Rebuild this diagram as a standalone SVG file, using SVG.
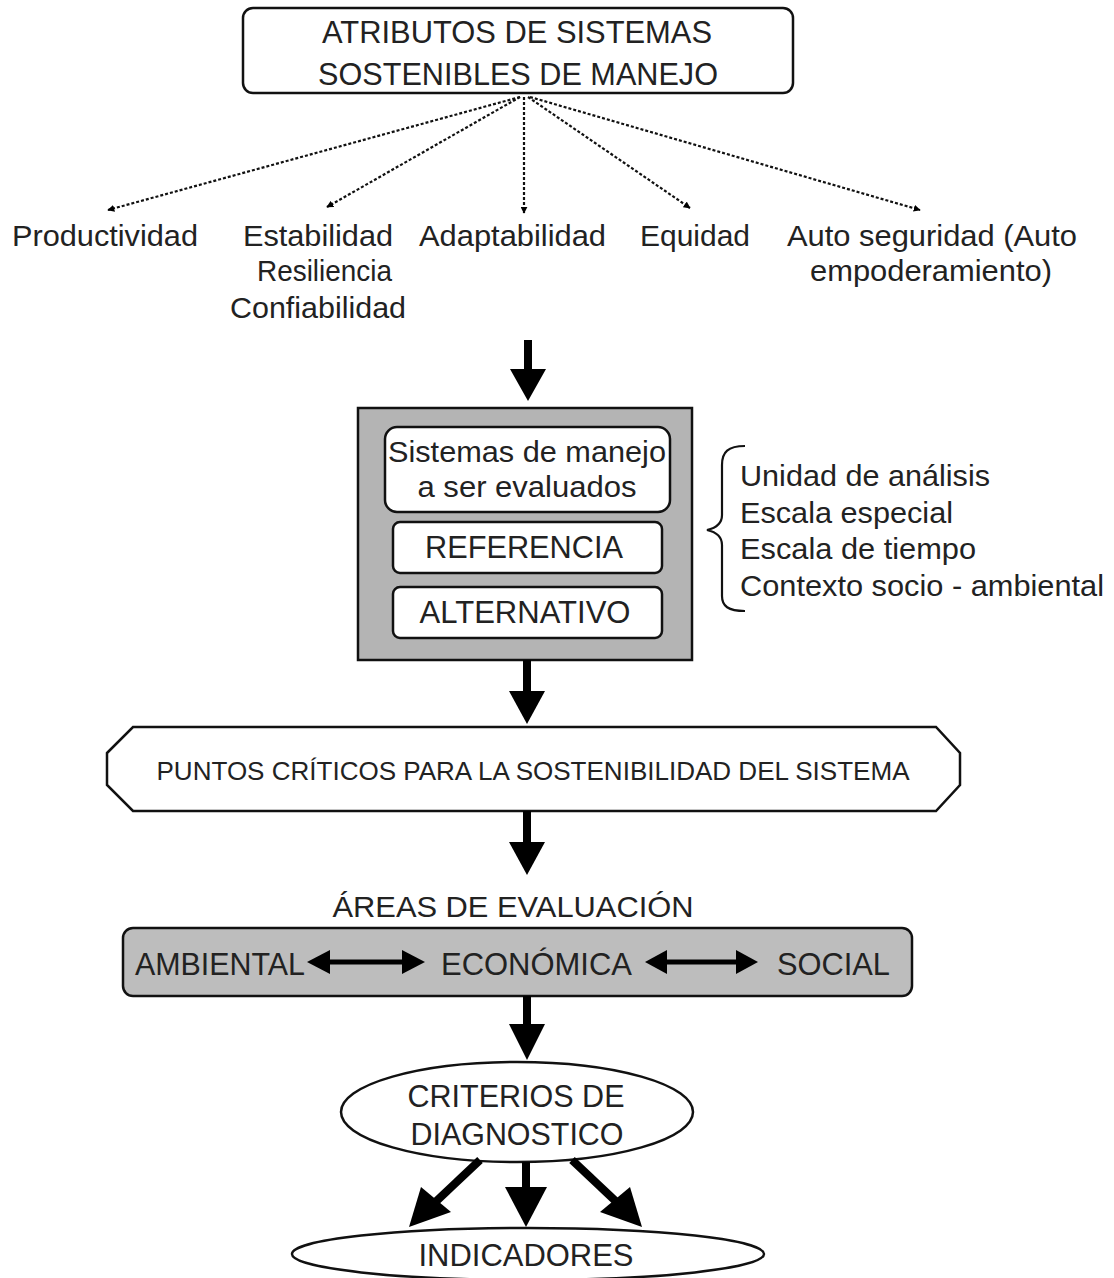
<svg xmlns="http://www.w3.org/2000/svg" width="1114" height="1278" viewBox="0 0 1114 1278">
<defs>
<style>
text{font-family:"Liberation Sans",Arial,sans-serif;font-size:30px;fill:#222;}
.c{text-anchor:middle;}
.u{font-size:32px;}
.box{fill:#fff;stroke:#111;stroke-width:2.5;}
.gray{fill:#b4b4b4;stroke:#111;stroke-width:2.5;}
.dot{stroke:#111;stroke-width:2.2;stroke-dasharray:3 2;fill:none;}
.shaft{stroke:#000;stroke-width:8;fill:none;}
.head{fill:#000;}
</style>
<marker id="sm" viewBox="0 0 10 10" refX="9" refY="5" markerWidth="7" markerHeight="7" markerUnits="userSpaceOnUse" orient="auto">
<path d="M0,0 L10,5 L0,10 z" fill="#000"/>
</marker>
</defs>
<rect width="1114" height="1278" fill="#fff"/>

<g id="atributos">
<rect class="box" x="243" y="8" width="550" height="85" rx="10"/>
<text class="c u" x="517" y="43" textLength="390" lengthAdjust="spacingAndGlyphs">ATRIBUTOS DE SISTEMAS</text>
<text class="c u" x="518" y="85" textLength="400" lengthAdjust="spacingAndGlyphs">SOSTENIBLES DE MANEJO</text>
</g>

<g id="productividad"><text x="12" y="246" textLength="186" lengthAdjust="spacingAndGlyphs">Productividad</text></g>
<g id="estabilidad">
<text x="243" y="246" textLength="150" lengthAdjust="spacingAndGlyphs">Estabilidad</text>
<text x="257" y="281" textLength="135" lengthAdjust="spacingAndGlyphs">Resiliencia</text>
<text x="230" y="318" textLength="176" lengthAdjust="spacingAndGlyphs">Confiabilidad</text>
</g>
<g id="adaptabilidad"><text x="419" y="246" textLength="187" lengthAdjust="spacingAndGlyphs">Adaptabilidad</text></g>
<g id="equidad"><text x="640" y="246" textLength="110" lengthAdjust="spacingAndGlyphs">Equidad</text></g>
<g id="autoseguridad">
<text x="787" y="246" textLength="290" lengthAdjust="spacingAndGlyphs">Auto seguridad (Auto</text>
<text x="810" y="281" textLength="242" lengthAdjust="spacingAndGlyphs">empoderamiento)</text>
</g>

<g id="sistemas">
<rect class="gray" x="358" y="408" width="334" height="252"/>
<rect class="box" x="385" y="427" width="285" height="85" rx="12"/>
<text class="c" x="527" y="462" textLength="278" lengthAdjust="spacingAndGlyphs">Sistemas de manejo</text>
<text class="c" x="527" y="497" textLength="219" lengthAdjust="spacingAndGlyphs">a ser evaluados</text>
<rect class="box" x="393" y="522" width="269" height="51" rx="7"/>
<text class="c u" x="524" y="558" textLength="198" lengthAdjust="spacingAndGlyphs">REFERENCIA</text>
<rect class="box" x="393" y="587" width="269" height="51" rx="7"/>
<text class="c u" x="525" y="623" textLength="211" lengthAdjust="spacingAndGlyphs">ALTERNATIVO</text>
</g>

<g id="contexto">
<path d="M745,446 C728,446 722,452 722,465 L722,515 C722,524 716,528 707,530 C716,532 722,536 722,545 L722,596 C722,606 728,611 745,611" fill="none" stroke="#111" stroke-width="2.2"/>
<text x="740" y="486" textLength="250" lengthAdjust="spacingAndGlyphs">Unidad de análisis</text>
<text x="740" y="523" textLength="213" lengthAdjust="spacingAndGlyphs">Escala especial</text>
<text x="740" y="559" textLength="236" lengthAdjust="spacingAndGlyphs">Escala de tiempo</text>
<text x="740" y="596" textLength="364" lengthAdjust="spacingAndGlyphs">Contexto socio - ambiental</text>
</g>

<g id="puntos">
<polygon class="box" points="107,753 133,727 936,727 960,753 960,785 936,811 133,811 107,785"/>
<text class="c" x="533" y="780" textLength="753" lengthAdjust="spacingAndGlyphs" style="font-size:26px">PUNTOS CRÍTICOS PARA LA SOSTENIBILIDAD DEL SISTEMA</text>
</g>

<g id="areas">
<text class="c" x="513" y="917" textLength="361" lengthAdjust="spacingAndGlyphs">ÁREAS DE EVALUACIÓN</text>
<rect x="123" y="928" width="789" height="68" rx="10" fill="#bdbdbd" stroke="#111" stroke-width="2.5"/>
<text class="u" x="135" y="975" textLength="170" lengthAdjust="spacingAndGlyphs">AMBIENTAL</text>
<text class="u" x="441" y="975" textLength="191" lengthAdjust="spacingAndGlyphs">ECONÓMICA</text>
<text class="u" x="777" y="975" textLength="113" lengthAdjust="spacingAndGlyphs">SOCIAL</text>
</g>

<g id="criterios">
<ellipse class="box" cx="517" cy="1112" rx="176" ry="50"/>
<text class="c u" x="516" y="1107" textLength="217" lengthAdjust="spacingAndGlyphs">CRITERIOS DE</text>
<text class="c u" x="517" y="1145" textLength="213" lengthAdjust="spacingAndGlyphs">DIAGNOSTICO</text>
</g>

<g id="indicadores">
<ellipse class="box" cx="528" cy="1254" rx="236" ry="26"/>
<text class="c" x="526" y="1266" textLength="215" lengthAdjust="spacingAndGlyphs" style="font-size:31px">INDICADORES</text>
</g>

<g id="connectors">
<line class="dot" x1="520" y1="97" x2="108" y2="210" marker-end="url(#sm)"/>
<line class="dot" x1="520" y1="97" x2="327" y2="207" marker-end="url(#sm)"/>
<line class="dot" x1="524" y1="97" x2="524" y2="213" marker-end="url(#sm)"/>
<line class="dot" x1="528" y1="97" x2="690" y2="208" marker-end="url(#sm)"/>
<line class="dot" x1="530" y1="97" x2="920" y2="210" marker-end="url(#sm)"/>

<line class="shaft" x1="528" y1="340" x2="528" y2="372"/>
<polygon class="head" points="510,369 546,369 528,401"/>

<line class="shaft" x1="527" y1="660" x2="527" y2="694"/>
<polygon class="head" points="509,691 545,691 527,724"/>

<line class="shaft" x1="527" y1="811" x2="527" y2="845"/>
<polygon class="head" points="509,842 545,842 527,875"/>

<line class="shaft" x1="527" y1="996" x2="527" y2="1027"/>
<polygon class="head" points="509,1024 545,1024 527,1060"/>

<line stroke="#000" stroke-width="5" x1="326" y1="962" x2="407" y2="962"/>
<polygon class="head" points="307,962 330,950 330,974"/>
<polygon class="head" points="425,962 402,950 402,974"/>
<line stroke="#000" stroke-width="5" x1="663" y1="962" x2="740" y2="962"/>
<polygon class="head" points="645,962 667,950 667,974"/>
<polygon class="head" points="758,962 736,950 736,974"/>

<line class="shaft" x1="480" y1="1160" x2="428" y2="1209"/>
<polygon class="head" points="409,1227 421,1187 451,1212"/>
<line class="shaft" x1="526" y1="1162" x2="526" y2="1195"/>
<polygon class="head" points="505,1187 547,1187 526,1227"/>
<line class="shaft" x1="572" y1="1160" x2="624" y2="1209"/>
<polygon class="head" points="642,1227 600,1212 630,1187"/>
</g>
</svg>
